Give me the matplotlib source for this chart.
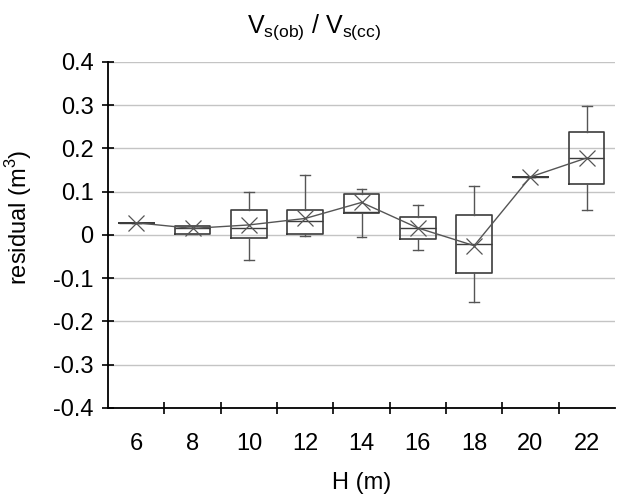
import matplotlib.pyplot as plt
from matplotlib.ticker import MultipleLocator, FixedLocator

plt.rcParams['font.family'] = ['Liberation Sans', 'DejaVu Sans']

# box statistics (residual, m3)
H = [6, 8, 10, 12, 14, 16, 18, 20, 22]
q1 = [0.028, 0.003, -0.008, 0.002, 0.051, -0.010, -0.089, 0.134, 0.118]
med = [0.028, 0.015, 0.015, 0.031, 0.054, 0.016, -0.021, 0.134, 0.178]
q3 = [0.028, 0.021, 0.058, 0.058, 0.095, 0.041, 0.046, 0.134, 0.238]
whislo = [0.028, 0.003, -0.059, -0.002, -0.005, -0.034, -0.156, 0.134, 0.058]
whishi = [0.028, 0.021, 0.100, 0.138, 0.105, 0.068, 0.113, 0.134, 0.298]
mean = [0.028, 0.015, 0.023, 0.038, 0.075, 0.016, -0.025, 0.134, 0.178]

stats = []
for i in range(len(H)):
    stats.append(dict(q1=q1[i], med=med[i], q3=q3[i], whislo=whislo[i],
                      whishi=whishi[i], mean=mean[i], fliers=[]))

fig = plt.figure(figsize=(6.18, 4.95), dpi=100)
ax = fig.add_axes([0.175, 0.176, 0.82, 0.699])

box_col = '#3c3c3c'
ax.bxp(stats, positions=H, widths=1.26, showmeans=False, showfliers=False,
       boxprops=dict(color=box_col, linewidth=1.2),
       medianprops=dict(color=box_col, linewidth=1.0),
       whiskerprops=dict(color='#555555', linewidth=1.0),
       capprops=dict(color='#555555', linewidth=1.0),
       capwidths=0.34, manage_ticks=False, zorder=3)

# mean line with X markers
ax.plot(H, mean, color='#555555', linewidth=1.0, marker='x',
        markersize=12, markeredgewidth=0.9, zorder=4)

ax.set_xlim(5, 23)
ax.set_ylim(-0.4, 0.4)
ax.yaxis.set_major_locator(MultipleLocator(0.1))
ax.set_yticklabels([f'{v:.1f}'.replace('-0.0', '0').replace('0.0', '0')
                    for v in ax.get_yticks()])
ax.set_xticks(H)
ax.xaxis.set_minor_locator(FixedLocator([7, 9, 11, 13, 15, 17, 19, 21]))
ax.tick_params(axis='x', which='major', length=0, labelsize=17, pad=18)
ax.tick_params(axis='x', which='minor', direction='inout', length=9, width=1.2)
ax.tick_params(axis='y', direction='inout', length=9, width=1.2, labelsize=17, pad=6)

ax.grid(axis='y', color='#c4c4c4', linewidth=1.0, zorder=0)
ax.set_axisbelow(True)
for s in ['top', 'right']:
    ax.spines[s].set_visible(False)
for s in ['left', 'bottom']:
    ax.spines[s].set_linewidth(1.3)

ax.set_xlabel('H (m)', fontsize=17, labelpad=12)
ax.set_ylabel(r'residual (m$^{\mathregular{3}}$)', fontsize=17)
ax.yaxis.set_label_coords(-0.146, 0.552)
fig.text(314 / 618, 1 - 27 / 495, r'V$_{\mathregular{s(ob)}}$ / V$_{\mathregular{s(cc)}}$',
         fontsize=18, ha='center', va='center')

fig.savefig('out.png', dpi=100)
